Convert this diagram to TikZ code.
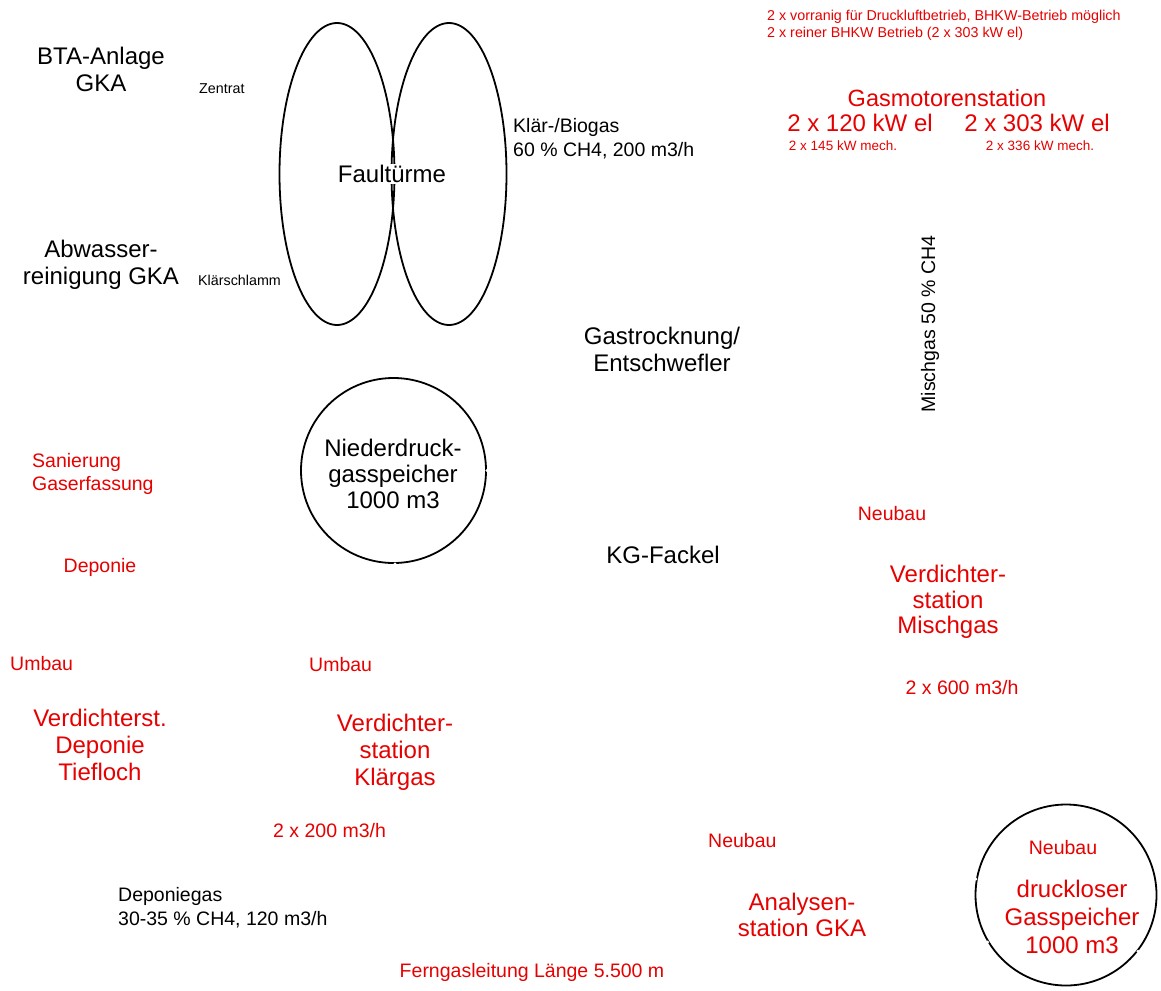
\documentclass[tikz,border=0pt]{standalone}
\usepackage{fontspec}
\setmainfont{Liberation Sans}
\usetikzlibrary{shapes.geometric}
\definecolor{rd}{RGB}{230,0,0}
\tikzset{
  lbl/.style={inner sep=0pt, align=center},
  big/.style={lbl, font=\fontsize{24}{27}\selectfont},
  bigl/.style={lbl, font=\fontsize{24}{28}\selectfont},
  mid/.style={lbl, font=\fontsize{19.5}{24}\selectfont},
  small/.style={lbl, font=\fontsize{14.3}{17}\selectfont},
  tiny/.style={lbl, font=\fontsize{13.5}{16}\selectfont},
  red/.style={text=rd},
  tower/.style={draw, ellipse, line width=1.8pt, inner sep=0pt, minimum width=115pt, minimum height=302pt},
  tank/.style={draw, circle, line width=1.8pt, inner sep=0pt},
  gap/.style={fill=white}
}
\begin{document}
\begin{tikzpicture}[x=1pt,y=-1pt]
\useasboundingbox (0,0) rectangle (1161,990);

% shapes
\node[tower] (ft1) at (337,174) {};
\node[tower] (ft2) at (449,174) {};
\node[tank, minimum size=185pt] (nds) at (393.5,470.5) {};
\node[tank, minimum size=181pt] (dgs) at (1066,895) {};
\fill[gap] (nds.south) ++(1.5,0) circle (1.6pt);
\fill[gap] (nds.east) circle (1.6pt);
\fill[gap] (dgs.170) circle (1.6pt);
\fill[gap] (dgs.211) circle (1.6pt);
\fill[gap] (dgs.322) circle (1.6pt);

% black labels
\node[big] (bta) at (101,69.5) {BTA-Anlage\\GKA};
\node[big] (abw) at (101,265) {Abwasser-\\reinigung GKA};
\node[small, anchor=base west] (zen) at (199,93) {Zentrat};
\node[small, anchor=base west] (kls) at (198,285) {Klärschlamm};
\node[big, anchor=base, fill=white, inner sep=1pt] (fault) at (392,182.6) {Faultürme};
\node[mid, align=left, anchor=west] (bio) at (513,139) {Klär-/Biogas\\60 \% CH4, 200 m3/h};
\node[big] (gastr) at (662,349) {Gastrocknung/\\Entschwefler};
\node[big, anchor=base] (kg) at (663,563.6) {KG-Fackel};
\node[big, font=\fontsize{24}{26}\selectfont] (ndtxt) at (393,474) {Niederdruck-\\gasspeicher\\1000 m3};
\node[mid, rotate=90] (misch) at (930,324) {Mischgas 50 \% CH4};
\node[mid, align=left, anchor=west] (depgas) at (118,908) {Deponiegas\\30-35 \% CH4, 120 m3/h};

% red labels
\node[small, red, align=left, anchor=west] (note) at (767,25) {2 x vorranig für Druckluftbetrieb, BHKW-Betrieb möglich\\2 x reiner BHKW Betrieb (2 x 303 kW el)};
\node[lbl, red, font=\fontsize{23.5}{27}\selectfont, anchor=base] (gasmot) at (947,106) {Gasmotorenstation};
\node[big, red, anchor=base] (el1) at (860,131) {2 x 120 kW el};
\node[big, red, anchor=base] (el2) at (1037,131) {2 x 303 kW el};
\node[tiny, red, anchor=base] (mech1) at (843,150.5) {2 x 145 kW mech.};
\node[tiny, red, anchor=base] (mech2) at (1040,150.5) {2 x 336 kW mech.};
\node[mid, red, align=left, anchor=west, font=\fontsize{19.5}{23}\selectfont] (san) at (32,474) {Sanierung\\Gaserfassung};
\node[mid, red, anchor=base] (dep) at (100,572) {Deponie};
\node[mid, red, anchor=base west] (umb1) at (10,670) {Umbau};
\node[big, red] (vdep) at (100,745) {Verdichterst.\\Deponie\\Tiefloch};
\node[mid, red, anchor=base west] (umb2) at (309,671) {Umbau};
\node[big, red] (vkl) at (395,752) {Verdichter-\\station\\Klärgas};
\node[mid, red, anchor=base west] (m200) at (273,837) {2 x 200 m3/h};
\node[mid, red, anchor=base] (neu1) at (892,520) {Neubau};
\node[big, red, font=\fontsize{24}{25.5}\selectfont] (vmisch) at (948,602) {Verdichter-\\station\\Mischgas};
\node[mid, red, anchor=base] (m600) at (962,694) {2 x 600 m3/h};
\node[mid, red, anchor=base west] (neu2) at (708,847) {Neubau};
\node[big, red, font=\fontsize{24}{26}\selectfont] (ana) at (802,915) {Analysen-\\station GKA};
\node[mid, red, anchor=base] (neu3) at (1063,854) {Neubau};
\node[bigl, red] (dtxt) at (1072,917) {druckloser\\Gasspeicher\\1000 m3};
\node[mid, red, anchor=base] (fern) at (532,977) {Ferngasleitung Länge 5.500 m};
\end{tikzpicture}
\end{document}
